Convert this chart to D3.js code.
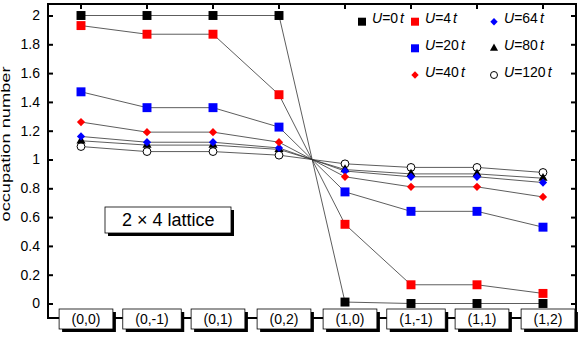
<!DOCTYPE html>
<html>
<head>
<meta charset="utf-8">
<script src="https://cdn.jsdelivr.net/npm/d3@7"></script>
<style>
  body { margin: 0; background: #fff; }
  svg { display: block; font-family: "Liberation Sans", Arial, sans-serif; }
</style>
</head>
<body>
<div id="chart"></div>
<script>
const sitios = ["(0,0)", "(0,-1)", "(0,1)", "(0,2)", "(1,0)", "(1,-1)", "(1,1)", "(1,2)"];
const valoresU = [0, 4, 20, 40, 64, 80, 120];
const ocup_U0   = [2.0, 2.0, 2.0, 2.0, 0.01, 0.0, 0.0, 0.0];
const ocup_U4   = [1.93, 1.87, 1.87, 1.45, 0.55, 0.13, 0.13, 0.07];
const ocup_U20  = [1.47, 1.36, 1.36, 1.225, 0.775, 0.64, 0.64, 0.53];
const ocup_U40  = [1.26, 1.19, 1.19, 1.12, 0.88, 0.81, 0.81, 0.74];
const ocup_U64  = [1.16, 1.12, 1.12, 1.08, 0.92, 0.88, 0.88, 0.84];
const ocup_U80  = [1.13, 1.10, 1.10, 1.07, 0.93, 0.90, 0.90, 0.87];
const ocup_U120 = [1.09, 1.055, 1.055, 1.03, 0.97, 0.945, 0.945, 0.91];
const yTicks = [0, 0.2, 0.4, 0.6, 0.8, 1, 1.2, 1.4, 1.6, 1.8, 2];

const series = [
  { u: valoresU[0], dados: ocup_U0,   simbolo: "square",  cor: "#000" },
  { u: valoresU[1], dados: ocup_U4,   simbolo: "square",  cor: "#f00" },
  { u: valoresU[2], dados: ocup_U20,  simbolo: "square",  cor: "#00f" },
  { u: valoresU[3], dados: ocup_U40,  simbolo: "diamond", cor: "#f00" },
  { u: valoresU[4], dados: ocup_U64,  simbolo: "diamond", cor: "#00f" },
  { u: valoresU[5], dados: ocup_U80,  simbolo: "triangle", cor: "#000" },
  { u: valoresU[6], dados: ocup_U120, simbolo: "circle",  cor: "#000" }
];

const width = 581, height = 343;
const esq = 48, dir = 576, topo = 4, base = 318;

const svg = d3.select("#chart").append("svg")
  .attr("width", width).attr("height", height);

const x = d3.scaleBand().domain(sitios).range([esq, dir]);
const cx = d => x(d) + x.bandwidth() / 2;
const y = d3.scaleLinear().domain([0, 2]).range([303.5, 15.5]);

function marcador(tipo, escala) {
  const s = escala || 1;
  if (tipo === "square") return d3.symbol(d3.symbolSquare, 80 * s)();
  if (tipo === "diamond") return d3.symbol(d3.symbolSquare, 34 * s)();
  if (tipo === "triangle") return d3.symbol(d3.symbolTriangle, 36 * s)();
  return d3.symbol(d3.symbolCircle, 48 * s)();
}

function desenhaMarcador(g, s, px, py, escala) {
  const p = g.append("path")
    .attr("d", marcador(s.simbolo, escala))
    .attr("transform", `translate(${px},${py})` + (s.simbolo === "diamond" ? " rotate(45)" : ""));
  if (s.simbolo === "circle") {
    p.attr("fill", "#fff").attr("stroke", "#000").attr("stroke-width", 1);
  } else {
    p.attr("fill", s.cor);
  }
}

// moldura
svg.append("rect")
  .attr("x", esq).attr("y", topo)
  .attr("width", dir - esq).attr("height", base - topo)
  .attr("fill", "none").attr("stroke", "#000").attr("stroke-width", 2);

// eixo y
const eixoY = svg.append("g")
  .attr("transform", `translate(${esq},0)`)
  .call(d3.axisLeft(y).tickValues(yTicks).tickFormat(d3.format("~g"))
    .tickSizeInner(-5).tickSizeOuter(0).tickPadding(8));
eixoY.select(".domain").remove();
eixoY.selectAll("line").attr("stroke-width", 2);
eixoY.selectAll("text").attr("font-size", 14).attr("font-family", "Liberation Sans, Arial, sans-serif");

const eixoDir = svg.append("g")
  .attr("transform", `translate(${dir},0)`)
  .call(d3.axisRight(y).tickValues(yTicks).tickFormat("")
    .tickSizeInner(-5).tickSizeOuter(0));
eixoDir.select(".domain").remove();
eixoDir.selectAll("line").attr("stroke-width", 2);

const eixoTopo = svg.append("g")
  .attr("transform", `translate(0,${topo})`)
  .call(d3.axisTop(x).tickFormat("").tickSizeInner(-5).tickSizeOuter(0));
eixoTopo.select(".domain").remove();
eixoTopo.selectAll("line").attr("stroke-width", 2);

// titulo do eixo
svg.append("text")
  .attr("transform", "translate(10,144) rotate(-90)")
  .attr("text-anchor", "middle")
  .attr("font-size", 12)
  .attr("textLength", 155)
  .attr("lengthAdjust", "spacingAndGlyphs")
  .text("occupation number");

// linhas e pontos (ordem inversa: U=0 por cima)
const linha = d3.line().x((d, i) => cx(sitios[i])).y(d => y(d));
const gLinhas = svg.append("g");
const gPontos = svg.append("g");
series.slice().reverse().forEach(s => {
  gLinhas.append("path")
    .attr("d", linha(s.dados))
    .attr("fill", "none").attr("stroke", "#333").attr("stroke-width", 0.8);
});
series.slice().reverse().forEach(s => {
  s.dados.forEach((v, i) => desenhaMarcador(gPontos, s, cx(sitios[i]), y(v), 1));
});

// caixas dos rotulos
const gRot = svg.append("g");
sitios.forEach(c => {
  const g = gRot.append("g");
  const t = g.append("text")
    .attr("x", cx(c) + 5).attr("y", 324)
    .attr("text-anchor", "middle").attr("font-size", 14)
    .text(c);
  const w = t.node().getComputedTextLength() + 25;
  const x0 = cx(c) + 5 - w / 2;
  g.insert("rect", "text").attr("x", x0 + 3).attr("y", 312).attr("width", w).attr("height", 20).attr("fill", "#000");
  g.insert("rect", "text").attr("x", x0).attr("y", 309).attr("width", w).attr("height", 20)
    .attr("fill", "#fff").attr("stroke", "#000").attr("stroke-width", 0.8);
});

// caixa "2 x 4 lattice"
svg.append("rect").attr("x", 108).attr("y", 210).attr("width", 126).attr("height", 26).attr("fill", "#000");
svg.append("rect").attr("x", 105).attr("y", 207).attr("width", 126).attr("height", 26)
  .attr("fill", "#fff").attr("stroke", "#000").attr("stroke-width", 0.8);
svg.append("text").attr("x", 122).attr("y", 226).attr("font-size", 18).text("2 \u00d7 4 lattice");

// legenda
const posLegenda = [[362, 21.7], [415, 21.7], [415, 48.3], [415, 75], [494, 21.7], [494, 48.3], [494, 75]];
const gLeg = svg.append("g");
series.forEach((s, i) => {
  const [lx, ly] = posLegenda[i];
  desenhaMarcador(gLeg, s, lx, ly, 0.8);
  const t = gLeg.append("text").attr("x", lx + 10).attr("y", ly + 1.5).attr("font-size", 14);
  t.append("tspan").attr("font-style", "italic").text("U");
  t.append("tspan").text("=" + s.u);
  t.append("tspan").attr("font-style", "italic").attr("dx", 2).text("t");
});
</script>
</body>
</html>
